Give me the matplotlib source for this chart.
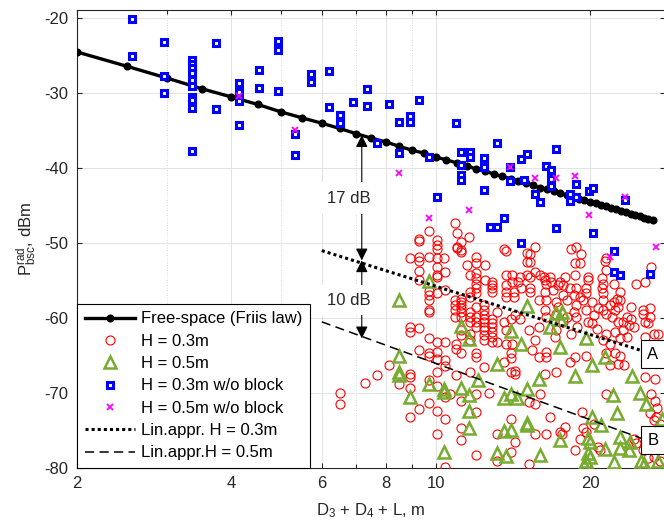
import matplotlib
matplotlib.use('Agg')
import matplotlib.pyplot as plt
from matplotlib.ticker import FixedLocator, NullFormatter

plt.rcParams['font.family'] = ['Liberation Sans', 'DejaVu Sans']
plt.rcParams['mathtext.fontset'] = 'custom'
plt.rcParams['mathtext.rm'] = 'Liberation Sans'
plt.rcParams['mathtext.it'] = 'Liberation Sans:italic'
plt.rcParams['mathtext.bf'] = 'Liberation Sans:bold'

# ---------------- data ----------------
friis_x = [2.0, 2.5, 3.0, 3.5, 4.0, 4.5, 5.0, 5.5, 6.0, 6.5, 7.0, 7.5, 8.0, 8.5, 9.0, 9.5,
           10.0, 10.5, 11.0, 11.5, 12.0, 12.5, 13.0, 13.5, 14.0, 14.5, 15.0, 15.5, 16.0,
           16.5, 17.0, 17.5, 18.0, 18.5, 19.0, 19.5, 20.0, 20.5, 21.0, 21.5, 22.0, 22.5,
           23.0, 23.5, 24.0, 24.5, 25.0, 25.5, 26.0, 26.5]
friis_y = [-24.5, -26.4, -28.0, -29.4, -30.5, -31.5, -32.5, -33.3, -34.0, -34.7, -35.4,
           -36.0, -36.5, -37.1, -37.6, -38.0, -38.5, -38.9, -39.3, -39.7, -40.1, -40.4,
           -40.8, -41.1, -41.4, -41.7, -42.0, -42.3, -42.6, -42.8, -43.1, -43.3, -43.6,
           -43.8, -44.1, -44.3, -44.5, -44.7, -44.9, -45.1, -45.3, -45.5, -45.7, -45.9,
           -46.1, -46.3, -46.4, -46.6, -46.8, -46.9]

h03_points = [
    (6.5, -70.0), (6.5, -71.5),
    (7.28, -68.6), (7.7, -67.6), (8.1, -66.3), (8.9, -67.4), (8.9, -67.8), (8.5, -68.8),
    (8.9, -69.3), (10.05, -67.2), (9.7, -68.2), (10.05, -69.1), (10.45, -70.5), (9.7, -71.3),
    (9.3, -72.1), (10.05, -72.4), (10.45, -73.4), (8.9, -73.2), (10.05, -75.5), (10.45, -79.9),
    (9.3, -64.3), (9.7, -64.6), (9.7, -65.1), (10.05, -64.5), (10.05, -65.5),
    (10.9, -47.3), (9.7, -48.4), (9.3, -49.5), (9.3, -49.7), (10.05, -49.6), (10.05, -50.3),
    (10.05, -50.8), (11.0, -48.7), (11.0, -50.5), (11.0, -50.7), (11.2, -49.8), (11.2, -50.9),
    (11.6, -49.2), (12.0, -51.8), (13.6, -50.8), (15.1, -51.3), (15.6, -50.5), (18.4, -50.8),
    (18.75, -50.5), (19.2, -51.5), (21.5, -52.0), (8.9, -52.0), (9.3, -51.8), (9.7, -51.8),
    (10.05, -52.0), (10.4, -52.0), (9.3, -52.4),
    (10.45, -53.8), (10.05, -53.2), (9.3, -53.7), (10.05, -54.2), (10.05, -54.5), (9.3, -54.9),
    (9.7, -56.4), (9.7, -56.9), (9.7, -57.6), (10.05, -56.7), (10.45, -56.3), (9.7, -58.9),
    (9.7, -59.2), (8.9, -61.2), (8.9, -61.8), (9.3, -61.3), (9.7, -62.7), (10.05, -63.2),
    (10.45, -63.2), (10.45, -65.6), (10.45, -66.4), (10.97, -63.4), (10.97, -64.1),
    (11.2, -51.2), (13.7, -51.0), (15.3, -51.4), (15.3, -52.5), (12.0, -52.7), (12.5, -52.9),
    (12.0, -54.0), (12.0, -54.7), (12.0, -55.4), (12.0, -56.0), (12.0, -56.7), (11.67, -54.3),
    (12.5, -54.9), (12.9, -55.2), (12.9, -55.6), (12.9, -56.0), (12.9, -56.5), (13.7, -54.3),
    (13.7, -55.6), (13.7, -56.5), (13.7, -57.2), (14.1, -55.2), (14.5, -55.2), (14.2, -56.5),
    (14.2, -57.2), (15.3, -54.5), (15.3, -56.0), (15.3, -56.5), (14.7, -56.0), (15.6, -53.8),
    (16.3, -54.5), (16.35, -54.9), (16.4, -55.4), (16.8, -55.2), (16.35, -56.5), (16.95, -56.3),
    (17.3, -55.6), (15.9, -57.6), (16.4, -57.6), (17.2, -57.8),
    (10.9, -57.6), (10.9, -58.3), (10.9, -58.9), (10.9, -59.8), (11.2, -57.4), (11.2, -57.8),
    (11.2, -58.3), (11.2, -58.7), (11.2, -59.2), (11.2, -59.8), (11.67, -56.5), (11.67, -57.2),
    (11.67, -59.2), (11.67, -59.8), (11.67, -60.5), (12.0, -58.5), (12.0, -59.8), (12.0, -60.5),
    (12.0, -61.2), (12.4, -58.3), (12.4, -58.9), (12.4, -59.6), (12.4, -60.1), (12.4, -60.5),
    (12.4, -61.2), (12.4, -61.6), (12.4, -62.3), (12.4, -62.9), (12.9, -60.1), (12.9, -60.7),
    (12.9, -61.2), (12.9, -61.8), (12.9, -62.5), (12.9, -63.2), (13.2, -59.2), (13.6, -60.5),
    (13.7, -61.6), (14.0, -60.1), (14.3, -59.6), (14.6, -60.1), (13.2, -63.2), (13.7, -63.4),
    (14.1, -63.4), (15.2, -61.6), (15.9, -61.2), (15.6, -62.9), (16.35, -58.9), (16.4, -59.8),
    (17.2, -59.4), (17.3, -58.5), (17.2, -61.6), (17.1, -62.5), (11.2, -61.6), (11.2, -62.3),
    (11.67, -62.1), (11.67, -62.9),
    (11.5, -52.9), (14.1, -54.3), (14.6, -54.5), (15.1, -52.5), (15.1, -54.3), (16.0, -54.3),
    (16.7, -54.5), (17.5, -55.2),
    (18.7, -52.7), (19.1, -52.7), (21.4, -52.4), (21.5, -53.6), (17.9, -54.5), (18.7, -54.3),
    (19.8, -54.5), (19.8, -54.9), (21.1, -54.7), (21.2, -55.4), (22.3, -55.4), (24.6, -55.5),
    (22.9, -56.5), (25.6, -55.2), (26.3, -53.2),
    (17.7, -55.6), (18.3, -56.0), (18.8, -56.0), (19.6, -56.0), (19.6, -56.7), (17.7, -56.9),
    (18.6, -56.9), (19.1, -57.2), (19.4, -57.6), (18.0, -57.6), (18.8, -58.3), (19.6, -58.9),
    (18.6, -59.2), (18.0, -59.8), (18.8, -59.8), (20.2, -57.8), (20.7, -58.7), (20.4, -59.6),
    (21.2, -58.9), (21.1, -56.0), (21.2, -56.7), (21.2, -57.6), (21.9, -58.3), (22.3, -57.8),
    (22.6, -57.4), (22.9, -57.6), (22.7, -58.5), (24.0, -58.5), (25.4, -58.9), (26.2, -58.7),
    (25.4, -59.4), (26.2, -59.8), (22.4, -58.9), (21.5, -59.4), (22.1, -59.8), (23.6, -59.8),
    (24.0, -60.1), (22.7, -60.5), (23.2, -60.5), (23.8, -60.9), (24.4, -61.2), (25.6, -60.5),
    (25.9, -60.7), (26.6, -62.1), (27.1, -62.1), (23.2, -61.6), (22.4, -61.8), (21.5, -62.1),
    (20.6, -61.4), (20.2, -60.7), (19.8, -60.5), (18.9, -61.2), (18.4, -62.1), (17.7, -60.5),
    (22.9, -62.7), (21.2, -62.9), (21.9, -63.4), (23.6, -62.5), (25.6, -62.5),
    (11.2, -64.7), (12.0, -64.7), (12.0, -65.2), (14.0, -64.6), (14.0, -65.3), (13.6, -65.8),
    (12.4, -66.5), (14.3, -67.0), (14.3, -67.4), (14.0, -67.2), (15.4, -64.3), (15.9, -65.2),
    (16.4, -64.5), (16.4, -65.2), (17.2, -67.2), (16.35, -67.4), (11.67, -67.2), (10.97, -67.6),
    (10.67, -70.1), (11.2, -71.0), (12.0, -70.1), (12.7, -70.0), (12.0, -72.5), (15.2, -71.2),
    (15.6, -71.4), (16.0, -70.1), (16.7, -73.2), (14.0, -73.4), (11.2, -74.7), (11.2, -76.3),
    (13.2, -75.4), (14.3, -76.5), (15.6, -75.4), (16.4, -75.4), (17.5, -75.2), (12.0, -78.3),
    (13.2, -79.0), (14.0, -77.9), (15.2, -79.4),
    (18.3, -65.8), (18.7, -65.2), (19.6, -65.0), (21.5, -64.7), (22.4, -64.7), (22.9, -65.0),
    (23.3, -66.3), (22.7, -66.1), (21.9, -66.3), (25.6, -67.9), (26.8, -68.1), (21.5, -70.1),
    (26.2, -72.7), (26.6, -73.6), (26.9, -73.2), (17.9, -74.5), (17.6, -75.4), (19.4, -74.7),
    (19.6, -75.2), (20.4, -74.1), (19.1, -76.1), (18.7, -77.6), (20.7, -77.2), (20.9, -77.6),
    (25.4, -77.6), (25.9, -78.7), (26.6, -78.5), (24.4, -76.1), (24.6, -76.7),
    (26.3, -70.1), (26.8, -71.0), (19.3, -72.5), (27.4, -74.1), (27.7, -75.0), (27.4, -79.1),
    (27.0, -72.0),
]

h05_points = [
    (9.7, -55.0), (8.5, -57.6), (15.1, -58.4), (17.2, -59.3), (17.6, -59.2), (17.5, -60.1),
    (16.7, -61.2), (11.2, -61.0), (11.6, -62.8), (14.0, -61.7), (14.7, -63.4), (17.5, -63.9),
    (19.6, -62.6), (21.4, -65.2), (20.2, -66.3), (18.7, -67.7), (24.1, -67.7), (13.2, -66.1),
    (15.9, -68.1), (12.1, -68.2), (8.5, -65.0), (8.5, -67.2), (8.5, -67.6), (9.7, -68.8),
    (8.9, -70.5), (10.4, -69.5), (10.4, -69.9), (11.2, -69.3), (11.6, -70.2), (11.6, -72.4),
    (11.6, -74.7), (13.6, -70.6), (14.0, -70.1), (14.4, -70.6), (15.1, -69.4), (13.6, -75.0),
    (14.0, -74.9), (15.1, -74.0), (15.1, -74.2), (13.2, -78.0), (13.7, -78.4), (10.4, -77.9),
    (16.0, -78.3), (17.5, -76.2), (19.8, -76.0), (20.0, -76.5), (19.8, -78.0), (19.6, -79.0),
    (19.5, -79.6), (20.2, -73.2), (21.0, -74.2), (22.6, -72.6), (22.2, -70.2), (21.4, -77.5),
    (22.3, -79.2), (22.9, -75.8), (22.9, -77.3), (23.9, -76.5), (23.8, -77.6), (25.0, -70.0),
    (25.7, -71.4), (25.1, -79.1), (25.5, -79.5), (27.1, -79.0), (27.6, -73.4), (20.0, -78.5),
]

h03_noblock_points = [
    (2.56, -20.1), (2.56, -25.1), (2.95, -23.2), (2.95, -27.7), (2.95, -30.0),
    (3.35, -25.6), (3.35, -26.1), (3.35, -26.7), (3.35, -27.3), (3.35, -28.2), (3.35, -29.1),
    (3.35, -30.5), (3.35, -30.9), (3.35, -32.0), (3.35, -37.7),
    (3.74, -23.3), (3.74, -32.1), (4.14, -28.7), (4.14, -29.9), (4.14, -31.1), (4.14, -34.3),
    (4.53, -26.9), (4.53, -29.3), (4.94, -23.0), (4.94, -24.2), (4.94, -29.7),
    (5.32, -35.4), (5.32, -38.3), (5.72, -27.4), (5.72, -28.5), (6.2, -27.1), (6.2, -31.8),
    (6.51, -32.9), (6.51, -34.0), (6.9, -31.2), (7.35, -29.4), (7.35, -31.7), (7.7, -36.7),
    (8.1, -31.5), (8.5, -33.8), (8.9, -33.0), (8.9, -33.8), (8.5, -38.0), (9.3, -30.9),
    (9.7, -38.5), (10.05, -43.8), (10.97, -34.0),
    (11.2, -37.8), (11.67, -37.8), (11.67, -38.5), (11.2, -39.6), (11.2, -40.9), (11.2, -41.6),
    (12.4, -38.7), (12.4, -39.9), (12.4, -42.9), (12.77, -47.8), (13.2, -47.8), (13.2, -36.7),
    (13.6, -46.6), (13.97, -39.9), (13.97, -41.7), (14.7, -38.8), (15.1, -38.1), (14.9, -41.6),
    (14.7, -50.0), (15.6, -43.5), (15.98, -44.5), (16.4, -39.7), (16.8, -40.3), (16.8, -41.5),
    (16.8, -42.4), (17.2, -37.4), (17.2, -48.0), (18.3, -43.5), (18.3, -44.4), (18.75, -42.1),
    (18.8, -43.8), (19.9, -43.1), (20.3, -42.6), (20.3, -48.6), (22.3, -51.0), (23.4, -44.3),
    (22.25, -53.8), (22.9, -54.3), (26.2, -54.1),
]

h05_noblock_points = [
    (4.14, -30.4), (5.32, -34.9), (8.5, -40.6), (11.6, -45.6), (9.7, -46.6), (13.97, -39.9),
    (15.6, -41.3), (17.2, -41.3), (18.7, -41.1), (19.9, -46.2), (23.4, -43.8), (21.9, -51.8),
    (26.9, -50.5),
]

lin03_x = [6.0, 26.5]
lin03_y = [-51.0, -64.8]
lin05_x = [6.0, 26.5]
lin05_y = [-60.5, -76.6]

x_ticks = [2, 4, 6, 8, 10, 20]
x_minor = [3, 5, 7, 9]
y_ticks = [-80, -70, -60, -50, -40, -30, -20]

labels = ['Free-space (Friis law)', 'H = 0.3m', 'H = 0.5m', 'H = 0.3m w/o block',
          'H = 0.5m w/o block', 'Lin.appr. H = 0.3m', 'Lin.appr.H = 0.5m']

# ---------------- figure ----------------
W, H = 664, 526
fig = plt.figure(figsize=(W / 100, H / 100), dpi=100)
ax = fig.add_axes([77 / W, 58 / H, 588 / W, 458 / H])
ax.set_xscale('log')

dark = '#262626'

ax.plot(friis_x, friis_y, '-', color='black', lw=2.4, marker='o', ms=4.8,
        mfc='black', mec='black', label=labels[0], zorder=3)
hx, hy = zip(*h03_points)
ax.plot(hx, hy, ls='none', marker='o', ms=6.5, mfc='none', mec='red', mew=0.8,
        label=labels[1], zorder=4)
tx, ty = zip(*h05_points)
ax.plot(tx, ty, ls='none', marker='^', ms=8.5, mfc='none', mec='#77AC30', mew=1.8,
        label=labels[2], zorder=5)
sx, sy = zip(*h03_noblock_points)
ax.plot(sx, sy, ls='none', marker='s', ms=4.4, mfc='white', mec='blue', mew=2.2,
        label=labels[3], zorder=6)
mx, my = zip(*h05_noblock_points)
ax.plot(mx, my, ls='none', marker='x', ms=5, mec='magenta', mew=1.3,
        label=labels[4], zorder=7)
ax.plot(lin03_x, lin03_y, color='black', lw=2.2, ls=(0, (1, 1)), label=labels[5], zorder=8)
ax.plot(lin05_x, lin05_y, color='black', lw=1.1, ls=(0, (6, 3.5)), label=labels[6], zorder=8)

ax.set_xlim(2, 28)
ax.set_ylim(-80, -18.9)
ax.xaxis.set_major_locator(FixedLocator(x_ticks))
ax.set_xticklabels([str(t) for t in x_ticks])
ax.xaxis.set_minor_locator(FixedLocator(x_minor))
ax.xaxis.set_minor_formatter(NullFormatter())
ax.set_yticks(y_ticks)
ax.set_yticklabels([str(t) for t in y_ticks])

ax.tick_params(which='both', direction='in', top=True, right=True, colors=dark,
               labelsize=12, width=0.8)
ax.tick_params(which='major', length=3.6, pad=6)
ax.tick_params(which='minor', length=2.6)
for sp in ax.spines.values():
    sp.set_color(dark)
    sp.set_linewidth(0.8)

ax.grid(True, which='major', color='#dedede', lw=0.6)
ax.grid(True, which='minor', axis='x', color='#cfcfcf', lw=0.6, ls=(0, (1, 2)))
ax.set_axisbelow(True)

ax.set_xlabel(r'D$_3$ + D$_4$ + L, m', fontsize=12, color=dark, labelpad=7.5)
ax.set_ylabel(r'$\mathrm{P}^{\mathrm{rad}}_{\mathrm{bsc}}$, dBm', fontsize=12, color=dark,
              labelpad=4)

# annotations
arrow_x = 7.18
ap = dict(arrowstyle='<|-|>,head_length=0.6,head_width=0.3', color='black', lw=0.8,
          shrinkA=0, shrinkB=0, mutation_scale=12)
ax.annotate('', xy=(arrow_x, -35.6), xytext=(arrow_x, -52.3), arrowprops=ap, zorder=9)
ax.annotate('', xy=(arrow_x, -52.3), xytext=(arrow_x, -62.7), arrowprops=ap, zorder=9)
ax.text(6.78, -44.0, '17 dB', ha='center', va='center', fontsize=12, color=dark,
        bbox=dict(boxstyle='square,pad=0.5', fc='white', ec='none'), zorder=10)
ax.text(6.78, -57.6, '10 dB', ha='center', va='center', fontsize=12, color=dark,
        bbox=dict(boxstyle='square,pad=0.45', fc='white', ec='none'), zorder=10)
ax.text(26.5, -64.8, 'A', ha='center', va='center', fontsize=12, color='black',
        bbox=dict(boxstyle='square,pad=0.4', fc='white', ec='black', lw=0.8), zorder=11)
ax.text(26.5, -76.3, 'B', ha='center', va='center', fontsize=12, color='black',
        bbox=dict(boxstyle='square,pad=0.4', fc='white', ec='black', lw=0.8), zorder=11)

leg = ax.legend(loc='lower left', bbox_to_anchor=(0, 0), borderaxespad=0, fontsize=12,
                frameon=True, fancybox=False, framealpha=1, edgecolor='black',
                handlelength=3.0, handletextpad=0.4, labelspacing=0.44, borderpad=0.45,
                numpoints=1)
leg.get_frame().set_linewidth(0.8)
leg.set_zorder(20)
for t in leg.get_texts():
    t.set_color('black')

fig.savefig('out.png', dpi=100)
